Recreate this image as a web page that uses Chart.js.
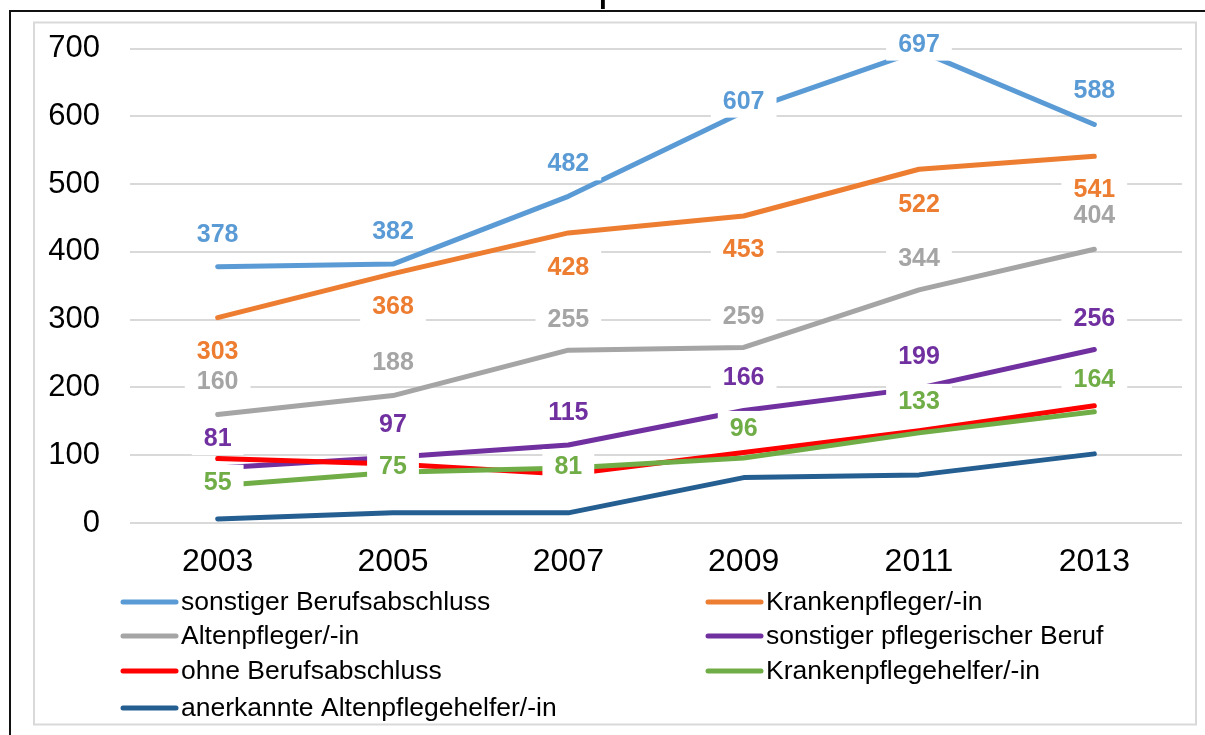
<!DOCTYPE html>
<html>
<head>
<meta charset="utf-8">
<script src="https://cdn.jsdelivr.net/npm/chart.js@4.4.1/dist/chart.umd.min.js"></script>
<style>
  html, body { margin: 0; padding: 0; background: #fff; }
  #wrap { width: 1205px; height: 735px; }
  canvas { display: block; }
</style>
</head>
<body>
<div id="wrap"><canvas id="chart" width="1205" height="735"></canvas></div>
<script>
/* ── DATA ───────────────────────────────────── */
const years = ['2003', '2005', '2007', '2009', '2011', '2013'];

const sonstigerBerufsabschluss    = [378, 382, 482, 607, 697, 588];
const krankenpfleger              = [303, 368, 428, 453, 522, 541];
const altenpfleger                = [160, 188, 255, 259, 344, 404];
const sonstigerPflegerischerBeruf = [81, 97, 115, 166, 199, 256];
const ohneBerufsabschluss         = [95, 87, 72, 104, 136, 173];
const krankenpflegehelfer         = [55, 75, 81, 96, 133, 164];
const anerkannteAltenpflegehelfer = [6, 15, 15, 67, 71, 102];

const seriesNames = [
    'sonstiger Berufsabschluss',
    'Krankenpfleger/-in',
    'Altenpfleger/-in',
    'sonstiger pflegerischer Beruf',
    'ohne Berufsabschluss',
    'Krankenpflegehelfer/-in',
    'anerkannte Altenpflegehelfer/-in'
];

const yMin = 0, yMax = 700, yStep = 100;

/* ── STYLE ──────────────────────────────────── */
const FONT = '"Liberation Sans", Arial, sans-serif';
const colors = ['#5B9BD5', '#ED7D31', '#A5A5A5', '#7030A0', '#FF0000', '#70AD47', '#255E91'];

// vertical offset of each value label from its point (null = no labels)
const labelOffsets = [
    [-33, -33, -33, -11, -7, -34],
    [33, 33, 34, 33, 35, 33],
    [-33, -33, -31, -31, -32, -34],
    [-30, -33, -33, -33, -32, -31],
    null,
    [-4, -6, -2, -30, -32, -33],
    null
];

const seriesData = [
    sonstigerBerufsabschluss, krankenpfleger, altenpfleger, sonstigerPflegerischerBeruf,
    ohneBerufsabschluss, krankenpflegehelfer, anerkannteAltenpflegehelfer
];

/* ── PLUGINS ────────────────────────────────── */
const framePlugin = {
    id: 'frame',
    beforeDraw(chart) {
        const ctx = chart.ctx;
        ctx.save();
        ctx.fillStyle = '#fff';
        ctx.fillRect(0, 0, chart.width, chart.height);
        // cut-off title descender
        ctx.fillStyle = '#000';
        ctx.font = '44px ' + FONT;
        ctx.textAlign = 'left';
        ctx.textBaseline = 'alphabetic';
        ctx.fillText('p', 598, 0);
        // outer black frame
        ctx.fillStyle = '#111';
        ctx.fillRect(9, 10, 1196, 2);
        ctx.fillRect(9, 10, 2, 725);
        // inner grey border
        ctx.strokeStyle = '#d9d9d9';
        ctx.lineWidth = 2;
        ctx.strokeRect(34, 22.5, 1162, 702);
        ctx.restore();
    }
};

const valueLabelPlugin = {
    id: 'valueLabels',
    afterDatasetsDraw(chart) {
        const ctx = chart.ctx;
        ctx.save();
        ctx.font = 'bold 25px ' + FONT;
        ctx.textAlign = 'center';
        ctx.textBaseline = 'middle';
        const items = [];
        chart.data.datasets.forEach((ds, i) => {
            const offs = labelOffsets[i];
            if (!offs) return;
            chart.getDatasetMeta(i).data.forEach((pt, j) => {
                const txt = String(ds.data[j]);
                items.push({ txt, x: pt.x, y: pt.y + offs[j], color: ds.borderColor, w: ctx.measureText(txt).width });
            });
        });
        ctx.fillStyle = '#fff';
        items.forEach(it => ctx.fillRect(it.x - it.w / 2 - 12, it.y - 17, it.w + 24, 34));
        items.forEach(it => {
            ctx.fillStyle = it.color;
            ctx.fillText(it.txt, it.x, it.y + 1);
        });
        ctx.restore();
    }
};

const legendPlugin = {
    id: 'sideLegend',
    afterDraw(chart) {
        const ctx = chart.ctx;
        const cols = [123, 708];
        const rows = [602, 636, 671, 708];
        ctx.save();
        ctx.font = '26.5px ' + FONT;
        ctx.textAlign = 'left';
        ctx.textBaseline = 'middle';
        chart.data.datasets.forEach((ds, i) => {
            const x = cols[i % 2];
            const y = rows[Math.floor(i / 2)];
            ctx.strokeStyle = ds.borderColor;
            ctx.lineWidth = 5;
            ctx.lineCap = 'round';
            ctx.beginPath();
            ctx.moveTo(x, y);
            ctx.lineTo(x + 53, y);
            ctx.stroke();
            ctx.fillStyle = '#000';
            ctx.fillText(ds.label, x + 58, y + 1);
        });
        ctx.restore();
    }
};

/* ── CHART ──────────────────────────────────── */
const datasets = seriesData.map((data, i) => ({
    label: seriesNames[i],
    data: data,
    borderColor: colors[i],
    backgroundColor: colors[i],
    borderWidth: 5,
    borderCapStyle: 'round',
    borderJoinStyle: 'round',
    pointRadius: 0,
    tension: 0,
    fill: false,
    clip: false,
    order: seriesData.length - i
}));

new Chart(document.getElementById('chart'), {
    type: 'line',
    data: { labels: years, datasets },
    options: {
        responsive: false,
        animation: false,
        devicePixelRatio: 1,
        layout: { padding: { top: 47, left: 0, right: 23, bottom: 152 } },
        plugins: {
            legend: { display: false },
            tooltip: { enabled: false },
            title: { display: false }
        },
        scales: {
            x: {
                offset: true,
                grid: { display: false, drawTicks: false },
                border: { display: false },
                ticks: { color: '#000', font: { family: FONT, size: 32 }, padding: 20, maxRotation: 0 },
                afterFit(s) { s.height = 60; }
            },
            y: {
                min: yMin,
                max: yMax,
                grid: { color: '#d9d9d9', lineWidth: 2, drawTicks: false },
                border: { display: false },
                ticks: { stepSize: yStep, color: '#000', font: { family: FONT, size: 31 }, padding: 30 },
                afterFit(s) { s.width = 130; }
            }
        }
    },
    plugins: [framePlugin, valueLabelPlugin, legendPlugin]
});
</script>
</body>
</html>
